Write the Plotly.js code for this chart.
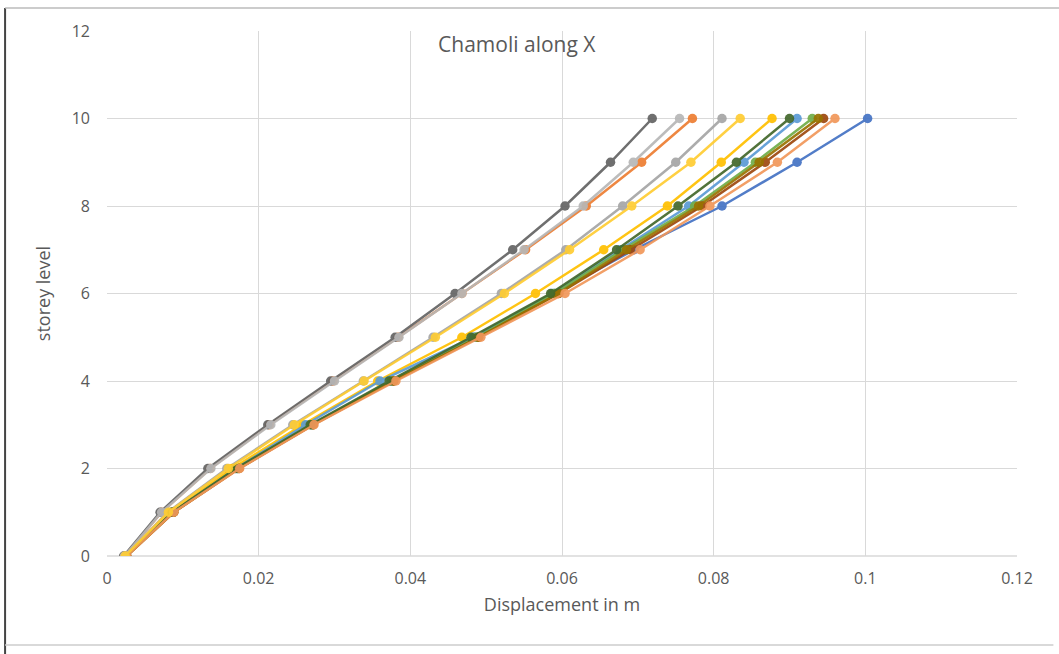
<!DOCTYPE html>
<html>
<head>
<meta charset="utf-8">
<script src="https://cdn.plot.ly/plotly-3.0.1.min.js"></script>
<style>html,body{margin:0;padding:0;background:#fff;}#chart{width:1059px;height:654px;}</style>
</head>
<body>
<div id="chart"></div>
<script>
const storeys = [0,1,2,3,4,5,6,7,8,9,10];
const xTicks = [0,0.02,0.04,0.06,0.08,0.1,0.12];
const xTickLabels = ['0','0.02','0.04','0.06','0.08','0.1','0.12'];
const yTicks = [0,2,4,6,8,10,12];

const seriesNames = ['Series1','Series2','Series3','Series4','Series5','Series6','Series7','Series8','Series9','Series10','Series11','Series12','Series13'];
const seriesColors = ['#4472C4','#ED7D31','#A5A5A5','#FFC000','#5B9BD5','#70AD47','#9E480E','#636363','#997300','#43682B','#F1975A','#B7B7B7','#FFCD33'];

const s1  = [0.0025,0.0087,0.0172,0.0270,0.0375,0.0485,0.0590,0.0695,0.0811,0.0910,0.1003];
const s2  = [0.0023,0.0072,0.0136,0.0214,0.0298,0.0384,0.0468,0.0552,0.0632,0.0705,0.0772];
const s3  = [0.0024,0.0080,0.0158,0.0245,0.0338,0.0430,0.0520,0.0605,0.0680,0.0750,0.0811];
const s4  = [0.0025,0.0084,0.0165,0.0258,0.0357,0.0468,0.0565,0.0655,0.0739,0.0810,0.0877];
const s5  = [0.0025,0.0086,0.0170,0.0262,0.0360,0.0483,0.0587,0.0677,0.0767,0.0840,0.0910];
const s6  = [0.0025,0.0087,0.0172,0.0270,0.0375,0.0487,0.0590,0.0680,0.0775,0.0855,0.0930];
const s7  = [0.0026,0.0088,0.0174,0.0272,0.0378,0.0490,0.0596,0.0690,0.0785,0.0868,0.0945];
const s8  = [0.0022,0.0070,0.0133,0.0212,0.0295,0.0380,0.0459,0.0535,0.0604,0.0664,0.0719];
const s9  = [0.0026,0.0088,0.0174,0.0272,0.0378,0.0490,0.0595,0.0685,0.0780,0.0860,0.0938];
const s10 = [0.0025,0.0086,0.0170,0.0268,0.0372,0.0480,0.0585,0.0672,0.0753,0.0830,0.0900];
const s11 = [0.0026,0.0088,0.0175,0.0273,0.0381,0.0493,0.0604,0.0703,0.0795,0.0884,0.0960];
const s12 = [0.0023,0.0072,0.0137,0.0216,0.0300,0.0385,0.0468,0.0550,0.0628,0.0694,0.0755];
const s13 = [0.0024,0.0081,0.0160,0.0247,0.0339,0.0433,0.0524,0.0610,0.0692,0.0770,0.0835];
const allSeries = [s1,s2,s3,s4,s5,s6,s7,s8,s9,s10,s11,s12,s13];

const traces = allSeries.map((xs, i) => ({
  type: 'scatter',
  mode: 'lines+markers',
  name: seriesNames[i],
  x: xs,
  y: storeys,
  line: {color: seriesColors[i], width: 2.5},
  marker: {color: seriesColors[i], size: 9.5},
  opacity: 0.92,
  showlegend: false
}));

const fontColor = '#595959';
const fam = '"Open Sans", sans-serif';
const layout = {
  width: 1059,
  height: 654,
  paper_bgcolor: '#ffffff',
  plot_bgcolor: '#ffffff',
  margin: {l: 107, r: 42, t: 31, b: 98},
  font: {family: fam, color: fontColor, size: 16},
  title: {
    text: 'Chamoli along X',
    font: {size: 21, color: fontColor, family: fam},
    x: 0.488, xref: 'container', xanchor: 'center',
    y: 0.931, yref: 'container', yanchor: 'middle'
  },
  xaxis: {
    range: [0, 0.12],
    tickvals: xTicks,
    ticktext: xTickLabels,
    showgrid: true,
    gridcolor: '#D9D9D9',
    gridwidth: 1,
    zeroline: false,
    showline: false,
    ticks: '',
    ticklabelstandoff: 11,
    tickfont: {size: 16, color: fontColor, family: fam},
    title: {text: 'Displacement in m', font: {size: 18, color: fontColor, family: fam}, standoff: 10}
  },
  yaxis: {
    range: [0, 12],
    tickvals: yTicks,
    showgrid: true,
    gridcolor: '#D9D9D9',
    gridwidth: 1,
    zeroline: false,
    showline: false,
    ticks: '',
    ticklabelstandoff: 16,
    tickfont: {size: 16, color: fontColor, family: fam},
    title: {text: 'storey level', font: {size: 18, color: fontColor, family: fam}, standoff: 16}
  },
  shapes: [
    {type: 'line', xref: 'paper', yref: 'paper', x0: 0, x1: 1, y0: 0, y1: 0, line: {color: '#D9D9D9', width: 1.5}, layer: 'below'},
    {type: 'line', xref: 'paper', yref: 'paper', x0: -0.112, x1: -0.112, y0: 1.044, y1: -0.19, line: {color: '#444444', width: 2}},
    {type: 'line', xref: 'paper', yref: 'paper', x0: -0.112, x1: 1.05, y0: 1.044, y1: 1.044, line: {color: '#BBBBBB', width: 1.5}},
    {type: 'line', xref: 'paper', yref: 'paper', x0: -0.112, x1: 1.04, y0: -0.1695, y1: -0.1695, line: {color: '#CCCCCC', width: 1.5}}
  ]
};

Plotly.newPlot('chart', traces, layout, {displayModeBar: false, staticPlot: true});
</script>
</body>
</html>
